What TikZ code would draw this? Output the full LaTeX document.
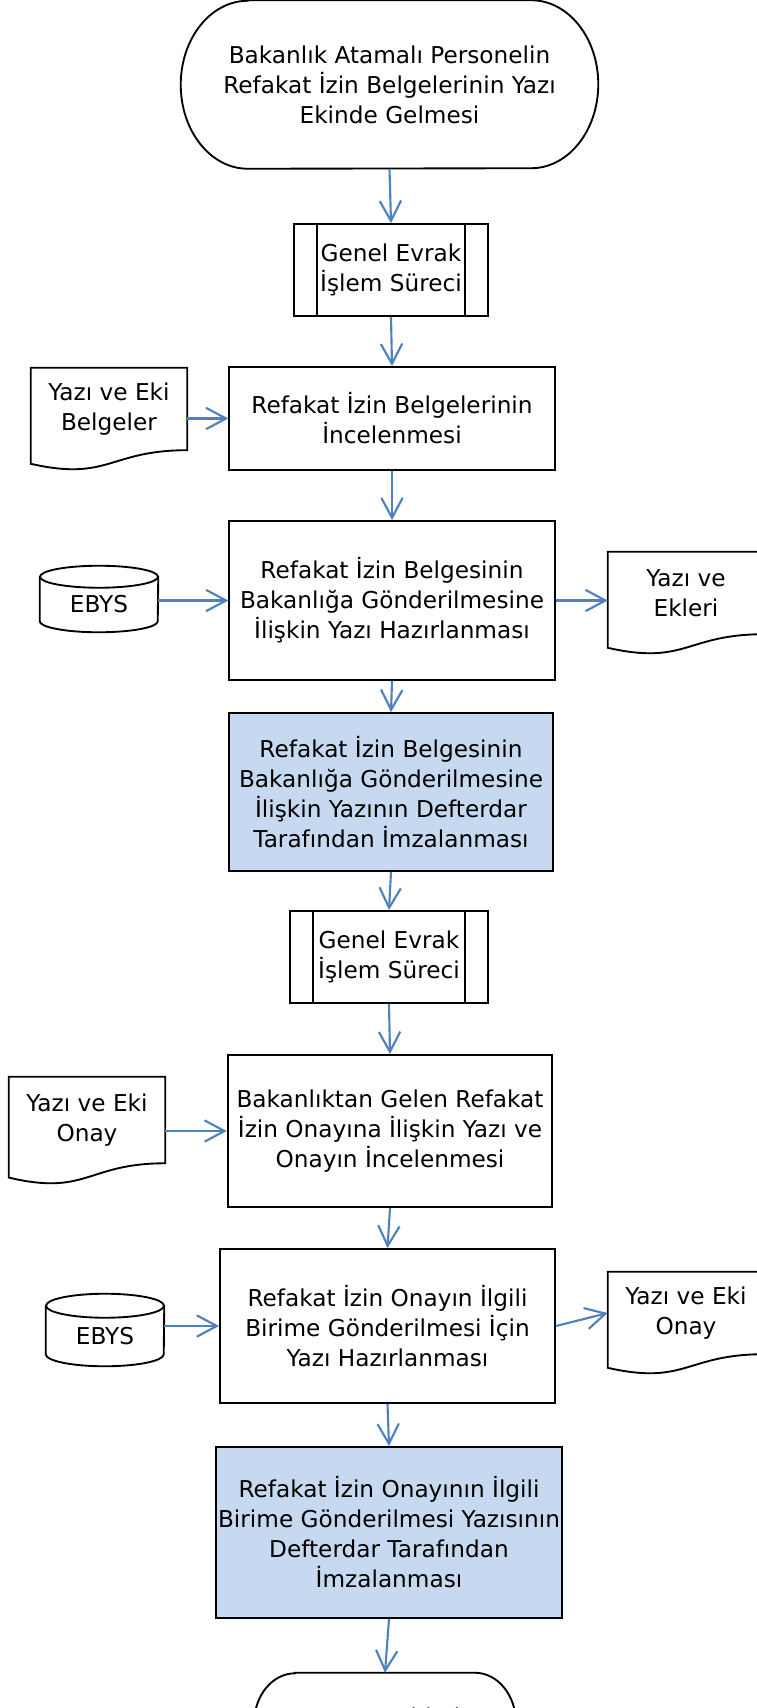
\documentclass[tikz,border=0pt]{standalone}
\usepackage{fontspec}
\setmainfont{DejaVu Sans}
\usetikzlibrary{calc,arrows.meta}
\definecolor{okmavi}{HTML}{4F81BD}
\definecolor{kutumavi}{HTML}{C6D9F1}

% belge (dalgali alt kenar)
\newcommand{\belgecizgi}[1]{%
  \draw[cizgi] (#1.north west) -- (#1.north east) -- (#1.south east)
    .. controls (#1.south) and ($(#1.south)!-0.381!(#1.north)$) ..
    ($(#1.south west)!-0.165!(#1.north west)$) -- cycle;}
% veritabani silindiri
\newcommand{\vtcizgi}[3]{%
  \draw[cizgi] (#1.north) ellipse [x radius=#2, y radius=#3];
  \draw[cizgi] (#1.north west) -- ([yshift=#3]#1.south west)
    arc[start angle=180, end angle=360, x radius=#2, y radius=#3] -- (#1.north east);}
% baslangic / bitis
\newcommand{\ucsekil}[3]{%
  \draw[cizgi] ([xshift=#2]#1.north west) -- ([xshift=-#2]#1.north east)
    arc[start angle=90, end angle=-90, x radius=#2, y radius=#3]
    -- ([xshift=#2]#1.south west)
    arc[start angle=270, end angle=90, x radius=#2, y radius=#3] -- cycle;}
% alt surec cizgileri
\newcommand{\altsurec}[1]{%
  \draw[cizgi] ([xshift=18pt]#1.north west) -- ([xshift=18pt]#1.south west);
  \draw[cizgi] ([xshift=-18pt]#1.north east) -- ([xshift=-18pt]#1.south east);}

\begin{document}
\begin{tikzpicture}[x=0.75pt, y=-0.75pt,
  kutu/.style={rectangle, inner sep=0pt, align=center,
    font=\fontsize{17.4pt}{22.5pt}\selectfont},
  islem/.style={kutu, draw=black, line width=1.4pt},
  cizgi/.style={draw=black, line width=1.4pt},
  ok/.style={draw=okmavi, line width=1.6pt, -{Straight Barb[length=15pt,width=16pt]}}]
\useasboundingbox (0,0) rectangle (756,1708);

\node[kutu, minimum width=312.75pt, minimum height=126pt] (bas) at (389.5,84.5)
  {Bakanlık Atamalı Personelin\\Refakat İzin Belgelerinin Yazı\\Ekinde Gelmesi};
\ucsekil{bas}{50.3pt}{63pt}

\node[islem, minimum width=145.5pt, minimum height=69pt] (genel1) at (391,270)
  {Genel Evrak\\İşlem Süreci};
\altsurec{genel1}

\node[islem, minimum width=244.1pt, minimum height=77.25pt] (incele) at (392,418.5)
  {Refakat İzin Belgelerinin\\İncelenmesi};
\node[kutu, minimum width=117pt, minimum height=61.4pt] (belge1) at (109,409)
  {Yazı ve Eki\\Belgeler};
\belgecizgi{belge1}

\node[islem, minimum width=244.1pt, minimum height=119.25pt] (hazirla1) at (392,600.5)
  {Refakat İzin Belgesinin\\Bakanlığa Gönderilmesine\\İlişkin Yazı Hazırlanması};
\node[kutu, minimum width=88.5pt, minimum height=41.25pt] (ebys1) at (99,604.5) {EBYS};
\vtcizgi{ebys1}{44.25pt}{8.25pt}
\node[kutu, minimum width=117pt, minimum height=61.4pt] (ekler) at (686,593)
  {Yazı ve\\Ekleri};
\belgecizgi{ekler}

\node[islem, fill=kutumavi, minimum width=243.4pt, minimum height=118.5pt] (imza1) at (391,792)
  {Refakat İzin Belgesinin\\Bakanlığa Gönderilmesine\\İlişkin Yazının Defterdar\\Tarafından İmzalanması};

\node[islem, minimum width=148.5pt, minimum height=69pt] (genel2) at (389,957)
  {Genel Evrak\\İşlem Süreci};
\altsurec{genel2}

\node[islem, minimum width=243.4pt, minimum height=114pt] (onayincele) at (390,1131)
  {Bakanlıktan Gelen Refakat\\İzin Onayına İlişkin Yazı ve\\Onayın İncelenmesi};
\node[kutu, minimum width=117pt, minimum height=64.5pt] (onay1) at (87,1120)
  {Yazı ve Eki\\Onay};
\belgecizgi{onay1}

\node[islem, minimum width=251.25pt, minimum height=115.5pt] (hazirla2) at (387.5,1326)
  {Refakat İzin Onayın İlgili\\Birime Gönderilmesi İçin\\Yazı Hazırlanması};
\node[kutu, minimum width=88.5pt, minimum height=45pt] (ebys2) at (105,1336) {EBYS};
\vtcizgi{ebys2}{44.25pt}{9pt}
\node[kutu, minimum width=117pt, minimum height=61.4pt] (onay2) at (686,1313)
  {Yazı ve Eki\\Onay};
\belgecizgi{onay2}

\node[islem, fill=kutumavi, minimum width=259.9pt, minimum height=128.25pt] (imza2) at (389,1532.5)
  {Refakat İzin Onayının İlgili\\Birime Gönderilmesi Yazısının\\Defterdar Tarafından\\İmzalanması};

\node[kutu, minimum width=192pt, minimum height=75pt, text depth=9pt] (son) at (385,1723)
  {Dosyasına Kaldırılması};
\ucsekil{son}{30.8pt}{37.5pt}

% akis oklari
\draw[ok] (bas.south) -- (genel1.north);
\draw[ok] (genel1.south) -- (incele.north);
\draw[ok] (belge1.east |- incele.west) -- (incele.west);
\draw[ok] (incele.south) -- (hazirla1.north);
\draw[ok] (ebys1.east |- hazirla1.west) -- (hazirla1.west);
\draw[ok] (hazirla1.east) -- (hazirla1.east -| ekler.west);
\draw[ok] (hazirla1.south) -- (imza1.north);
\draw[ok] (imza1.south) -- (genel2.north);
\draw[ok] (genel2.south) -- (onayincele.north);
\draw[ok] (onay1.east |- onayincele.west) -- (onayincele.west);
\draw[ok] (onayincele.south) -- (hazirla2.north);
\draw[ok] (ebys2.east |- hazirla2.west) -- (hazirla2.west);
\draw[ok] (hazirla2.east) -- (onay2.west);
\draw[ok] (hazirla2.south) -- (imza2.north);
\draw[ok] (imza2.south) -- (son.north);
\end{tikzpicture}
\end{document}
